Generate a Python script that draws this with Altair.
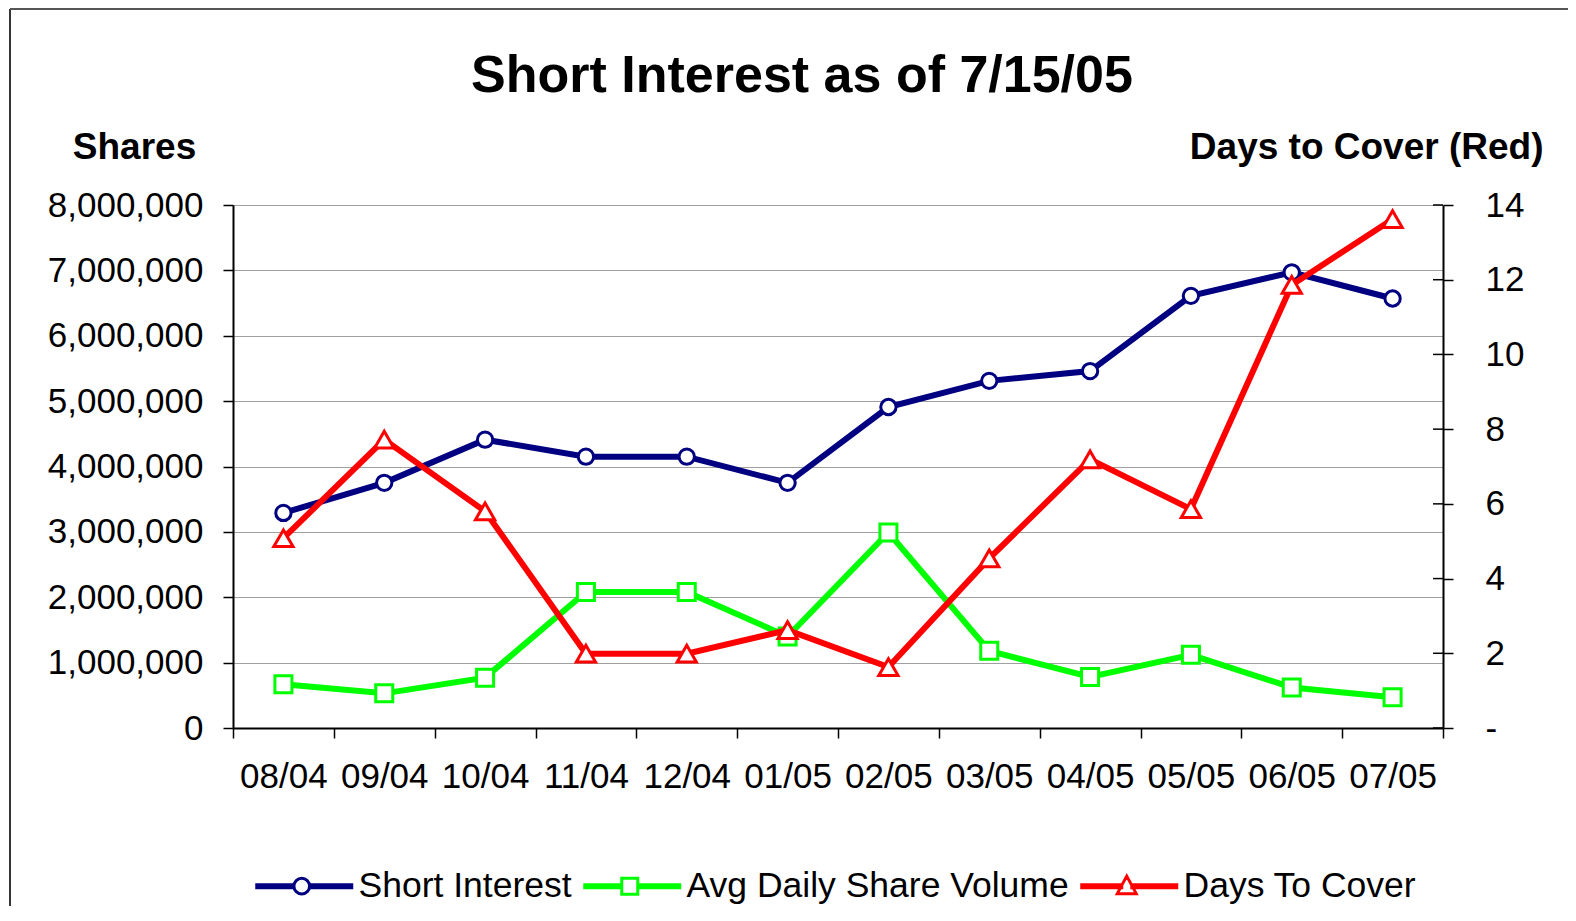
import altair as alt
import pandas as pd

# ---- data ----
months = ["08/04", "09/04", "10/04", "11/04", "12/04", "01/05",
          "02/05", "03/05", "04/05", "05/05", "06/05", "07/05"]
short_interest = [3290000, 3750000, 4410000, 4150000, 4150000, 3750000,
                  4910000, 5310000, 5460000, 6610000, 6970000, 6570000]
avg_daily_volume = [670000, 530000, 770000, 2080000, 2080000, 1400000,
                    2990000, 1180000, 780000, 1120000, 620000, 470000]
days_to_cover = [5.08, 7.72, 5.80, 1.99, 1.99, 2.62,
                 1.63, 4.54, 7.19, 5.86, 11.86, 13.62]
series_names = ["Short Interest", "Avg Daily Share Volume", "Days To Cover"]
series_colors = ["#000080", "#00FF00", "#FF0000"]
left_ticks = [0, 1000000, 2000000, 3000000, 4000000, 5000000, 6000000, 7000000, 8000000]
right_ticks = [0, 2, 4, 6, 8, 10, 12, 14]

df = pd.DataFrame({"month": months, "short": short_interest,
                   "volume": avg_daily_volume, "days": days_to_cover})
legend_df = pd.DataFrame({"series": series_names})
rtick_df = pd.DataFrame({"days": right_ticks})

W, H = 1210, 523
FONT = "Liberation Sans"

# legend symbols: line + marker in one path
seg_l = "M-1,-0.15H2.72V0.15H-1Z"
seg_r = "M4.28,-0.15H8.5V0.15H4.28Z"
circle = "M2.72,0A0.78,0.78 0 1,0 4.28,0A0.78,0.78 0 1,0 2.72,0Z"
square = "M2.7,-0.8H4.3V0.8H2.7Z"
seg_l2 = "M-1,-0.15H2.7V0.15H-1Z"
seg_r2 = "M4.3,-0.15H8.5V0.15H4.3Z"
triangle = "M3.5,-1.0L4.45,0.75L2.55,0.75Z"
seg_l_t = "M-1,-0.15H3.0V0.15H-1Z"
seg_r_t = "M4.0,-0.15H8.5V0.15H4.0Z"
legend_shapes = [seg_l + seg_r + circle, seg_l2 + seg_r2 + square, seg_l_t + seg_r_t + triangle]

x_enc = alt.X(
    "month:N", sort=months, bandPosition=0.5,
    scale=alt.Scale(type="band", paddingInner=0, paddingOuter=0),
    axis=alt.Axis(title=None, tickBand="extent", labelAngle=0, labelFontSize=35,
                  labelFont=FONT, labelColor="black", tickSize=10, tickColor="black",
                  tickWidth=1.5, labelPadding=21, domainColor="black", domainWidth=2,
                  grid=False),
)

left_axis = alt.Axis(title="Shares", values=left_ticks, format=",d", grid=True,
                     gridColor="#A0A0A0", gridWidth=1, labelFontSize=35, labelFont=FONT,
                     labelColor="black", tickSize=10, tickColor="black", tickWidth=1.5,
                     labelPadding=20, domainColor="black", domainWidth=2,
                     titleAngle=0, titleX=-99, titleY=-47, titleAlign="center",
                     titleBaseline="alphabetic", titleFontSize=37, titleFont=FONT,
                     titleFontWeight="bold", titleColor="black")
left_scale = alt.Scale(domain=[0, 8000000], nice=False, zero=True)

right_axis = alt.Axis(orient="right", title="Days to Cover (Red)", values=right_ticks,
                      labelExpr="datum.value == 0 ? '-' : datum.label", grid=False,
                      labelFontSize=35, labelFont=FONT, labelColor="black", tickSize=10,
                      tickColor="black", tickWidth=1.5, labelPadding=32,
                      domainColor="black", domainWidth=2,
                      titleAngle=0, titleX=100, titleY=-47, titleAlign="right",
                      titleBaseline="alphabetic", titleFontSize=37, titleFont=FONT,
                      titleFontWeight="bold", titleColor="black")
right_scale = alt.Scale(domain=[0, 14], nice=False, zero=True)

LW = 6
base = alt.Chart(df)

legend_def = alt.Legend(title=None, orient="none", legendX=16, legendY=663,
                        direction="horizontal", symbolSize=400, symbolStrokeWidth=3,
                        symbolOpacity=1, symbolFillColor="white", labelFontSize=35.5,
                        labelFont=FONT, labelColor="black", labelOffset=74,
                        columnPadding=5, padding=0, labelLimit=0)

legend_layer = alt.Chart(legend_df).mark_point(filled=True, fill="white", opacity=0).encode(
    stroke=alt.Stroke("series:N", sort=series_names,
                      scale=alt.Scale(domain=series_names, range=series_colors),
                      legend=legend_def),
    shape=alt.Shape("series:N", sort=series_names,
                    scale=alt.Scale(domain=series_names, range=legend_shapes),
                    legend=legend_def),
)

frame_left = alt.Chart(legend_df).mark_rule(color="#333333", strokeWidth=1.5).encode(
    x=alt.value(-223), y=alt.value(-196), y2=alt.value(H + 300))
frame_top = alt.Chart(legend_df).mark_rule(color="#555555", strokeWidth=2).encode(
    x=alt.value(-223), x2=alt.value(W + 300), y=alt.value(-196))

si_line = base.mark_line(color=series_colors[0], strokeWidth=LW).encode(
    x=x_enc, y=alt.Y("short:Q", scale=left_scale, axis=left_axis))
si_pts = base.mark_point(shape="circle", size=235, filled=True, fill="white",
                         stroke=series_colors[0], strokeWidth=3, opacity=1).encode(
    x=x_enc, y=alt.Y("short:Q", scale=left_scale, axis=left_axis))
vol_line = base.mark_line(color=series_colors[1], strokeWidth=LW).encode(
    x=x_enc, y=alt.Y("volume:Q", scale=left_scale, axis=left_axis))
vol_pts = base.mark_point(shape="square", size=290, filled=True, fill="white",
                          stroke=series_colors[1], strokeWidth=3, opacity=1).encode(
    x=x_enc, y=alt.Y("volume:Q", scale=left_scale, axis=left_axis))

# inner half of the right-axis ticks (they cross the axis line in the reference)
rticks_inner = alt.Chart(rtick_df).mark_rule(color="black", strokeWidth=1.5).encode(
    x=alt.value(W - 10), x2=alt.value(W),
    y=alt.Y("days:Q", scale=right_scale, axis=right_axis))
days_line = base.mark_line(color=series_colors[2], strokeWidth=LW).encode(
    x=x_enc, y=alt.Y("days:Q", scale=right_scale, axis=right_axis))
days_pts = base.mark_point(shape="triangle-up", size=370, filled=True, fill="white",
                           stroke=series_colors[2], strokeWidth=3, opacity=1).encode(
    x=x_enc, y=alt.Y("days:Q", scale=right_scale, axis=right_axis))

left = alt.layer(legend_layer, frame_left, frame_top, si_line, si_pts, vol_line, vol_pts)
right = alt.layer(rticks_inner, days_line, days_pts)

chart = alt.layer(left, right).resolve_scale(y="independent").properties(
    width=W, height=H,
    autosize=alt.AutoSizeParams(type="none"),
    padding={"left": 225, "top": 197, "right": 125, "bottom": 178},
    title=alt.TitleParams("Short Interest as of 7/15/05", fontSize=52, font=FONT,
                          fontWeight="bold", color="black", anchor="middle", offset=0,
                          baseline="alphabetic", dy=136, dx=-36),
).configure_view(stroke="#808080", strokeWidth=2).configure(font=FONT)

chart.save("out.html", embed_options={"renderer": "svg", "actions": False})
